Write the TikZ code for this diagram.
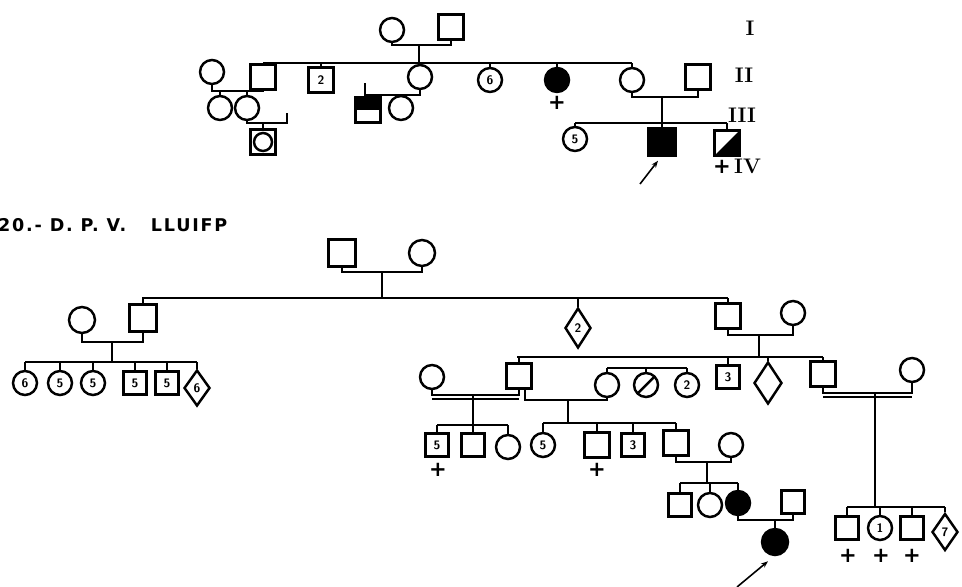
\documentclass[tikz,border=0pt]{standalone}
\usepackage{fontspec}
\usepackage{tikz}
\usetikzlibrary{shapes.geometric,arrows.meta}
\newfontfamily\hdrfont{DejaVu Sans}[LetterSpace=10]
\newfontfamily\crossfont{DejaVu Sans}

\tikzset{
  sq/.style={draw, rectangle, minimum size=0.5cm, inner sep=0pt, font=\scriptsize\bfseries\sffamily},
  ci/.style={draw, circle, minimum size=0.48cm, inner sep=0pt, font=\scriptsize\bfseries\sffamily},
  dia/.style={draw, diamond, minimum width=0.52cm, minimum height=0.76cm, inner sep=0pt, font=\scriptsize\bfseries\sffamily},
  aff/.style={fill=black},
  halftop/.style={path picture={\fill (path picture bounding box.north west) rectangle (path picture bounding box.east);}},
  diagfill/.style={path picture={\fill (path picture bounding box.south west) -- (path picture bounding box.south east) -- (path picture bounding box.north east) -- cycle;}},
  slash/.style={path picture={\draw (path picture bounding box.south west) -- (path picture bounding box.north east);}},
  dead/.style={font=\crossfont\bfseries\large, inner sep=0pt},
  gen/.style={font=\large\bfseries, inner sep=0pt},
  ptr/.style={-{Stealth[length=4pt,width=3pt]}, line width=0.9pt},
}

\begin{document}
\begin{tikzpicture}[x=0.02cm, y=-0.02cm, line width=1.4pt]
\useasboundingbox (0,0) rectangle (962,587);

% ===== first family =====
% gen I
\node[ci] (a1) at (392,30) {};
\node[sq] (a2) at (451,27) {};
\coordinate (mA) at (419,45);
\draw (a1.south) |- (mA) -| (a2.south);
\coordinate (sA1) at (263,63);
\coordinate (sA2) at (632,63);
\draw (mA) -- (mA |- sA1);
\draw (sA1) -- (sA2);

% gen II
\node[ci] (b1) at (212,72) {};
\node[sq] (b2) at (263,77) {};
\node[sq] (b3) at (321,80) {2};
\node[ci] (b4) at (420,77) {};
\node[ci] (b5) at (490,80) {6};
\node[ci, aff] (b6) at (557,80) {};
\node[dead] (x1) at (557,103) {+};
\node[ci] (b7) at (632,80) {};
\node[sq] (b8) at (698,77) {};
\foreach \k in {b2,b3,b4,b5,b6,b7} \draw (\k.north) -- (\k.north |- sA1);

% b1 x b2
\coordinate (mB) at (238,91);
\draw (b1.south) |- (mB) -| (b2.south);
\node[ci] (c1) at (220,108) {};
\node[ci] (c2) at (247,108) {};
\foreach \k in {c1,c2} \draw (\k.north) -- (\k.north |- mB);
\coordinate (mC) at (263,123);
\coordinate (tC) at (287,113);
\draw (c2.south) |- (tC |- mC) -- (tC);
\node[sq] (d1) at (263,142) {};
\node[ci, minimum size=0.36cm] (d1c) at (d1) {};
\draw (mC) -- (d1.north);

% b4 with spouse not shown
\coordinate (mE) at (392,95);
\coordinate (tE) at (365,83);
\draw (b4.south) |- (tE |- mE) -- (tE);
\node[sq, halftop] (e1) at (368,110) {};
\node[ci] (e2) at (401,108) {};
\foreach \k in {e1,e2} \draw (\k.north) -- (\k.north |- mE);

% b7 x b8
\coordinate (mF) at (662,97);
\draw (b7.south) |- (mF) -| (b8.south);
\coordinate (sF1) at (575,123);
\coordinate (sF2) at (727,123);
\draw (mF) -- (mF |- sF1);
\draw (sF1) -- (sF2);
\node[ci] (f1) at (575,139) {5};
\node[sq, aff, minimum size=0.54cm] (f2) at (662,142) {};
\node[sq, diagfill] (f3) at (727,143) {};
\foreach \k in {f1,f2,f3} \draw (\k.north) -- (\k.north |- sF1);
\coordinate (pA) at (640,184);
\draw[ptr] (pA) -- ([shift={(-4,4)}]f2.south);

% generations
\node[gen] (genI) at (750,28) {I};
\node[gen] (genII) at (744,75) {II};
\node[gen] (genIII) at (742,115) {III};
\node[gen] (genIV) at (737,166) {{\crossfont +}\,IV};

% ===== second family =====
\node[anchor=west, inner sep=0pt, font=\hdrfont\bfseries] (hdr) at (-3,225) {20.- D. P. V.\hspace{1.4em}LLUIFP};

% gen I
\node[sq, minimum size=0.54cm] (u1) at (342,253) {};
\node[ci, minimum size=0.52cm] (u2) at (422,253) {};
\coordinate (mU) at (382,272);
\draw (u1.south) |- (mU) -| (u2.south);
\coordinate (sU1) at (142,298);
\coordinate (sU2) at (728,298);
\draw (mU) -- (mU |- sU1);
\draw (sU1) -- (sU2);

% gen II
\node[ci, minimum size=0.52cm] (v1) at (82,320) {};
\node[sq, minimum size=0.54cm] (v2) at (143,318) {};
\node[dia, minimum height=0.8cm] (v3) at (578,328) {2};
\node[sq] (v4) at (728,316) {};
\node[ci] (v5) at (793,313) {};
\foreach \k in {v2,v3,v4} \draw (\k.north) -- (\k.north |- sU1);

% v1 x v2
\coordinate (mV) at (112,342);
\draw (v1.south) |- (mV) -| (v2.south);
\coordinate (sV1) at (25,362);
\coordinate (sV2) at (197,362);
\draw (mV) -- (mV |- sV1);
\draw (sV1) -- (sV2);
\node[ci] (w1) at (25,383) {6};
\node[ci] (w2) at (60,383) {5};
\node[ci] (w3) at (93,383) {5};
\node[sq, minimum size=0.46cm] (w4) at (135,383) {5};
\node[sq, minimum size=0.46cm] (w5) at (167,383) {5};
\node[dia, minimum height=0.72cm] (w6) at (197,388) {6};
\foreach \k in {w1,w2,w3,w4,w5,w6} \draw (\k.north) -- (\k.north |- sV1);

% v4 x v5
\coordinate (mW) at (759,335);
\draw (v4.south) |- (mW) -| (v5.south);
\coordinate (sW1) at (517,357);
\coordinate (sW2) at (823,357);
\draw (mW) -- (mW |- sW1);
\draw (sW1) -- (sW2);

% gen III
\node[ci] (y0) at (432,377) {};
\node[sq] (y1) at (519,376) {};
\node[sq, minimum size=0.46cm] (y2) at (728,377) {3};
\node[dia, minimum width=0.56cm, minimum height=0.84cm] (y3) at (768,383) {};
\node[sq] (y4) at (823,374) {};
\node[ci] (y5) at (912,370) {};
\foreach \k in {y1,y2,y3,y4} \draw (\k.north) -- (\k.north |- sW1);

% y0 x y1 (double line)
\coordinate (mY) at (473,395);
\draw (y0.south) |- (mY) -| (y1.south);
\draw (y0.south |- 0,399) -- (y1.south |- 0,399);
\coordinate (sY1) at (437,425);
\coordinate (sY2) at (508,425);
\draw (mY) -- (mY |- sY1);
\draw (sY1) -- (sY2);
\node[sq, minimum size=0.46cm] (z1) at (437,445) {5};
\node[dead] (x2) at (438,470) {+};
\node[sq, minimum size=0.46cm] (z2) at (473,445) {};
\node[ci] (z3) at (508,447) {};
\foreach \k in {z1,z2,z3} \draw (\k.north) -- (\k.north |- sY1);

% y1 x l0, with sisters of l0
\node[ci] (l0) at (607,385) {};
\node[ci, slash] (l1) at (646,385) {};
\node[ci] (l2) at (687,385) {2};
\coordinate (sL1) at (607,368);
\coordinate (sL2) at (687,368);
\draw (sL1) -- (sL2);
\foreach \k in {l0,l1,l2} \draw (\k.north) -- (\k.north |- sL1);
\coordinate (mL) at (568,400);
\draw ([xshift=0.12cm]y1.south) |- (mL) -| (l0.south);
\coordinate (sM1) at (543,423);
\coordinate (sM2) at (676,423);
\draw (mL) -- (mL |- sM1);
\draw (sM1) -- (sM2);
\node[ci] (z4) at (543,445) {5};
\node[sq] (z5) at (597,445) {};
\node[dead] (x3) at (597,470) {+};
\node[sq, minimum size=0.46cm] (z6) at (633,445) {3};
\node[sq] (z7) at (676,443) {};
\foreach \k in {z4,z5,z6,z7} \draw (\k.north) -- (\k.north |- sM1);

% z7 x n0
\node[ci] (n0) at (731,445) {};
\coordinate (mN) at (707,462);
\draw (z7.south) |- (mN) -| (n0.south);
\coordinate (sN1) at (680,483);
\coordinate (sN2) at (738,483);
\draw (mN) -- (mN |- sN1);
\draw (sN1) -- (sN2);
\node[sq, minimum size=0.46cm] (n1) at (680,505) {};
\node[ci] (n2) at (710,505) {};
\node[ci, aff] (n3) at (738,503) {};
\foreach \k in {n1,n2,n3} \draw (\k.north) -- (\k.north |- sN1);
\node[sq, minimum size=0.46cm] (n4) at (793,502) {};
\coordinate (mO) at (775,520);
\draw (n3.south) |- (mO) -| (n4.south);
\node[ci, aff, minimum size=0.52cm] (o1) at (775,542) {};
\draw (mO) -- (o1.north);
\coordinate (pB) at (737,587);
\draw[ptr] (pB) -- ([shift={(-7,5)}]o1.south);

% y4 x y5 (double line)
\coordinate (mP) at (875,393);
\draw (y4.south) |- (mP) -| (y5.south);
\draw (y4.south |- 0,397) -- (y5.south |- 0,397);
\coordinate (sP1) at (847,507);
\coordinate (sP2) at (945,507);
\draw (mP) -- (mP |- sP1);
\draw (sP1) -- (sP2);
\node[sq, minimum size=0.46cm] (q1) at (847,528) {};
\node[ci] (q2) at (880,528) {1};
\node[sq, minimum size=0.46cm] (q3) at (912,528) {};
\node[dia, minimum height=0.74cm] (q4) at (945,532) {7};
\foreach \k in {q1,q2,q3,q4} \draw (\k.north) -- (\k.north |- sP1);
\node[dead] (x4) at (848,556) {+};
\node[dead] (x5) at (881,556) {+};
\node[dead] (x6) at (912,556) {+};
\end{tikzpicture}
\end{document}
